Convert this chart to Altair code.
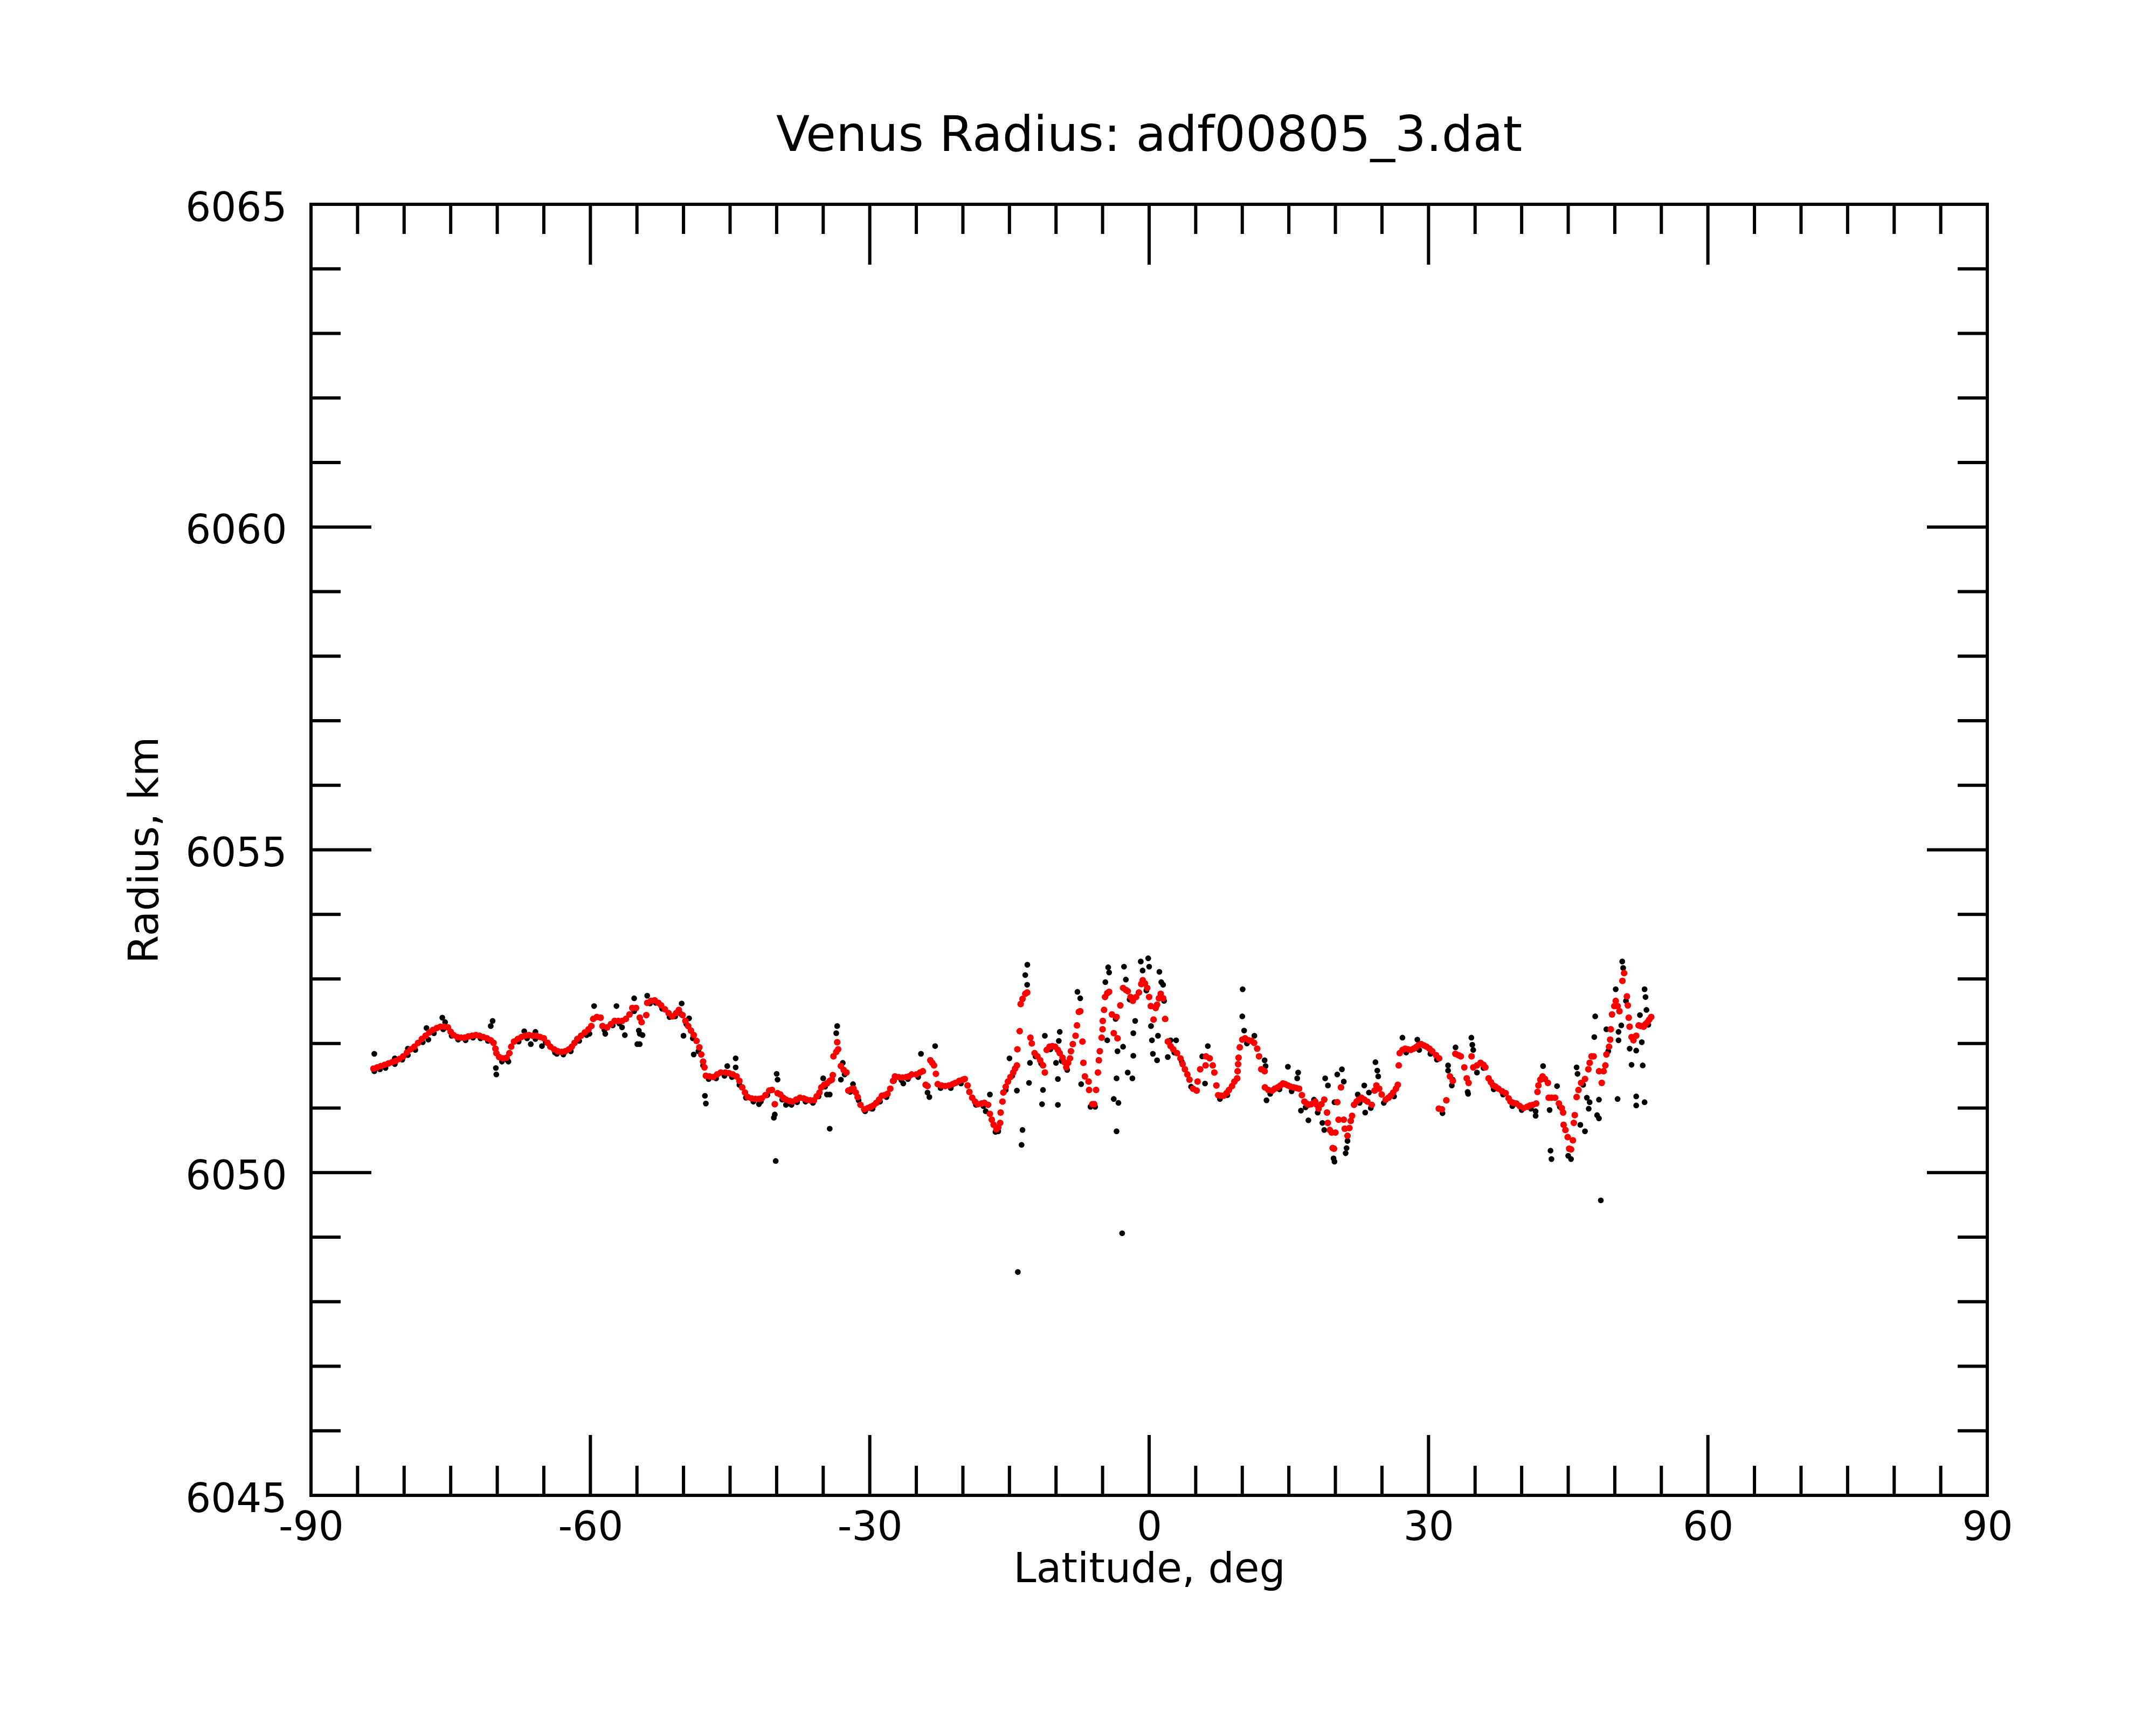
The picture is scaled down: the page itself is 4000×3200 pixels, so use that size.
import altair as alt
import pandas as pd

# ---- smoothed (red) radius profile: (latitude deg, radius km) ----
red_seg_a = [
    (-83.3, 6051.61), (-82.9, 6051.63), (-82.5, 6051.65), (-82.1, 6051.67), (-81.7, 6051.69),
    (-81.3, 6051.71), (-80.9, 6051.73), (-80.5, 6051.76), (-80.1, 6051.80), (-79.7, 6051.86),
    (-79.3, 6051.91), (-78.9, 6051.95), (-78.5, 6052.01), (-78.1, 6052.07), (-77.7, 6052.12),
    (-77.3, 6052.17), (-76.9, 6052.21), (-76.5, 6052.24), (-76.1, 6052.26), (-75.7, 6052.26),
    (-75.3, 6052.25), (-75.0, 6052.18), (-74.7, 6052.13), (-74.3, 6052.10), (-73.9, 6052.09),
    (-73.5, 6052.09), (-73.1, 6052.11), (-72.7, 6052.12), (-72.3, 6052.13), (-71.9, 6052.12),
    (-71.5, 6052.10), (-71.1, 6052.08), (-70.7, 6052.05), (-70.4, 6052.01), (-70.2, 6051.92),
    (-70.1, 6051.85), (-69.8, 6051.79), (-69.4, 6051.77), (-69.0, 6051.78), (-68.7, 6051.85),
    (-68.5, 6051.95), (-68.2, 6052.03), (-67.8, 6052.07), (-67.4, 6052.10), (-67.0, 6052.12),
    (-66.6, 6052.13), (-66.2, 6052.12), (-65.8, 6052.12), (-65.4, 6052.10), (-65.0, 6052.08),
    (-64.6, 6052.01), (-64.3, 6051.95), (-63.9, 6051.91), (-63.5, 6051.88), (-63.1, 6051.87),
    (-62.7, 6051.88), (-62.3, 6051.91), (-62.0, 6051.95), (-61.7, 6052.01), (-61.4, 6052.07),
    (-61.0, 6052.12), (-60.6, 6052.17), (-60.2, 6052.22), (-59.9, 6052.27), (-59.7, 6052.38),
    (-59.3, 6052.41), (-58.9, 6052.40), (-58.7, 6052.27), (-58.2, 6052.25), (-57.8, 6052.30),
    (-57.4, 6052.35), (-57.0, 6052.35), (-56.6, 6052.35), (-56.2, 6052.38), (-55.8, 6052.45),
    (-55.5, 6052.55), (-55.1, 6052.55), (-54.7, 6052.40), (-54.5, 6052.33),
]
red_seg_b = [
    (-54.0, 6052.44), (-53.9, 6052.63), (-53.5, 6052.66), (-53.1, 6052.67), (-52.7, 6052.63),
    (-52.4, 6052.59), (-52.0, 6052.53), (-51.6, 6052.47), (-51.2, 6052.42), (-50.8, 6052.47),
    (-50.5, 6052.52), (-50.1, 6052.44), (-49.8, 6052.35), (-49.5, 6052.27), (-49.2, 6052.20),
    (-48.9, 6052.13), (-48.6, 6052.04), (-48.3, 6051.94), (-48.1, 6051.83), (-47.9, 6051.72),
    (-47.75, 6051.63), (-47.6, 6051.50), (-47.2, 6051.49), (-46.8, 6051.48), (-46.4, 6051.52),
    (-46.0, 6051.55), (-45.5, 6051.55), (-45.1, 6051.54), (-44.7, 6051.52), (-44.3, 6051.49),
    (-44.0, 6051.42), (-43.7, 6051.32), (-43.4, 6051.24), (-43.1, 6051.17), (-42.7, 6051.15),
    (-42.3, 6051.14), (-41.9, 6051.14), (-41.6, 6051.15), (-41.2, 6051.20), (-40.8, 6051.27),
    (-40.5, 6051.28), (-40.2, 6051.06), (-39.9, 6051.23), (-39.6, 6051.21), (-39.3, 6051.16),
    (-39.0, 6051.13), (-38.6, 6051.11), (-38.3, 6051.10), (-37.9, 6051.13), (-37.5, 6051.16),
    (-37.1, 6051.15), (-36.8, 6051.13), (-36.4, 6051.12), (-36.0, 6051.12), (-35.7, 6051.18),
    (-35.4, 6051.24), (-35.2, 6051.32), (-34.9, 6051.36), (-34.6, 6051.38), (-34.3, 6051.42),
    (-34.07, 6051.44), (-33.97, 6051.51), (-33.9, 6051.80), (-33.6, 6051.87), (-33.5, 6052.02),
    (-33.4, 6051.91), (-33.1, 6051.65), (-32.8, 6051.59), (-32.5, 6051.55), (-32.3, 6051.27),
    (-32.0, 6051.29), (-31.75, 6051.30), (-31.5, 6051.24), (-31.3, 6051.17), (-31.0, 6051.05),
    (-30.6, 6050.98), (-30.2, 6051.00), (-29.9, 6051.02), (-29.6, 6051.04), (-29.3, 6051.08),
    (-29.0, 6051.13), (-28.7, 6051.19), (-28.4, 6051.20), (-28.1, 6051.22), (-27.8, 6051.30),
    (-27.5, 6051.42), (-27.3, 6051.49), (-26.9, 6051.48), (-26.5, 6051.47), (-26.1, 6051.48),
    (-25.8, 6051.49), (-25.5, 6051.52),
]
red_seg_c = [
    (-25.0, 6051.52), (-24.6, 6051.55), (-24.3, 6051.57), (-24.0, 6051.36), (-23.8, 6051.34),
    (-23.5, 6051.74), (-23.3, 6051.70), (-23.1, 6051.66), (-22.9, 6051.53), (-22.7, 6051.37),
    (-22.3, 6051.35), (-21.9, 6051.34), (-21.5, 6051.35), (-21.1, 6051.37), (-20.8, 6051.39),
    (-20.4, 6051.42), (-20.0, 6051.44), (-19.8, 6051.45), (-19.5, 6051.35), (-19.3, 6051.25),
    (-19.0, 6051.16), (-18.7, 6051.10), (-18.4, 6051.06), (-18.0, 6051.07), (-17.7, 6051.08),
    (-17.3, 6051.05), (-17.1, 6050.91), (-16.9, 6050.82), (-16.7, 6050.74), (-16.4, 6050.67),
    (-16.2, 6050.70), (-16.0, 6050.77), (-15.95, 6050.93), (-15.75, 6051.10), (-15.66, 6051.24),
    (-15.4, 6051.33), (-15.16, 6051.41), (-14.9, 6051.48), (-14.6, 6051.55), (-14.4, 6051.61),
    (-14.2, 6051.66), (-14.15, 6051.91), (-13.9, 6052.19), (-13.8, 6052.61), (-13.6, 6052.69),
    (-13.3, 6052.77), (-13.1, 6052.79), (-12.75, 6052.09), (-12.6, 6052.00), (-12.3, 6051.85),
    (-12.0, 6051.80), (-11.7, 6051.74), (-11.4, 6051.66), (-11.2, 6051.55), (-11.0, 6051.90),
    (-10.7, 6051.95), (-10.4, 6051.96), (-10.1, 6051.95), (-9.8, 6051.90), (-9.6, 6051.85),
    (-9.3, 6051.78), (-9.1, 6051.71), (-8.9, 6051.63), (-8.7, 6051.70), (-8.5, 6051.77),
    (-8.4, 6051.88), (-8.2, 6051.99), (-7.9, 6052.12), (-7.75, 6052.28), (-7.55, 6052.49),
    (-7.4, 6052.50), (-7.16, 6052.03), (-7.06, 6051.70), (-6.9, 6051.49), (-6.5, 6051.41),
    (-6.45, 6051.28), (-6.1, 6051.06), (-5.9, 6051.06), (-5.7, 6051.28), (-5.5, 6051.55),
    (-5.4, 6051.74), (-5.3, 6051.88), (-5.1, 6052.09), (-5.0, 6052.22), (-4.98, 6052.35),
    (-4.84, 6052.52), (-4.74, 6052.72), (-4.5, 6052.78), (-4.3, 6052.80), (-4.0, 6052.45),
    (-3.8, 6052.16), (-3.5, 6052.41), (-3.4, 6052.08), (-3.1, 6052.59), (-2.8, 6052.86),
    (-2.5, 6052.83), (-2.3, 6052.81), (-2.0, 6052.72), (-1.75, 6052.66), (-1.4, 6052.72),
    (-1.1, 6052.79), (-0.85, 6052.92), (-0.69, 6052.98), (-0.45, 6052.93), (-0.21, 6052.86),
    (0.0, 6052.72), (0.18, 6052.58), (0.47, 6052.37), (0.7, 6052.55), (0.85, 6052.60),
    (1.05, 6052.70), (1.24, 6052.77), (1.5, 6052.70), (1.72, 6052.38), (2.01, 6052.03),
    (2.3, 6051.96), (2.59, 6051.91), (3.0, 6051.85), (3.36, 6051.77), (3.6, 6051.68),
    (3.84, 6051.60),
]
red_seg_d = [
    (4.1, 6051.52), (4.33, 6051.44), (4.71, 6051.30), (5.1, 6051.27), (5.2, 6051.41),
    (5.48, 6051.60), (6.06, 6051.66), (6.1, 6051.80), (6.5, 6051.77), (6.83, 6051.66),
    (7.0, 6051.55), (7.22, 6051.35), (7.41, 6051.20), (7.7, 6051.19), (7.99, 6051.19),
    (8.3, 6051.23), (8.57, 6051.28), (8.9, 6051.34), (9.15, 6051.41), (9.45, 6051.46),
    (9.5, 6051.57), (9.55, 6051.68), (9.6, 6051.78), (9.73, 6051.94), (10.0, 6052.06),
    (10.3, 6052.08), (10.69, 6052.05), (11.0, 6052.04), (11.27, 6052.01), (11.6, 6051.92),
    (11.8, 6051.80), (12.04, 6051.60), (12.4, 6051.57), (12.43, 6051.32), (12.8, 6051.28),
    (13.2, 6051.27), (13.5, 6051.30), (13.8, 6051.32), (14.1, 6051.35), (14.36, 6051.38),
    (14.6, 6051.37), (14.9, 6051.35), (15.2, 6051.33), (15.51, 6051.32), (15.8, 6051.31),
    (16.1, 6051.30), (16.4, 6051.20), (16.67, 6051.10), (16.9, 6051.07), (17.1, 6051.05),
    (17.4, 6051.06), (17.83, 6051.10), (18.0, 6051.05), (18.2, 6050.99), (18.5, 6051.06),
    (18.8, 6051.13), (19.1, 6050.93), (19.18, 6050.77), (19.4, 6050.66), (19.6, 6050.62),
    (19.7, 6050.38), (19.85, 6050.37), (20.0, 6050.62), (20.2, 6051.09), (20.34, 6050.82),
    (20.6, 6051.32), (20.9, 6050.82), (21.0, 6050.68), (21.3, 6050.57), (21.5, 6050.69),
    (21.65, 6050.80), (21.79, 6050.88), (22.0, 6051.05), (22.27, 6051.10), (22.5, 6051.13),
    (22.8, 6051.16), (23.1, 6051.13), (23.43, 6051.10), (23.9, 6051.05), (24.2, 6051.27),
    (24.4, 6051.35), (24.7, 6051.30), (24.97, 6051.21), (25.4, 6051.13), (25.7, 6051.16),
    (25.93, 6051.19), (26.2, 6051.24), (26.5, 6051.30), (26.7, 6051.36), (26.8, 6051.66),
    (26.9, 6051.85), (27.2, 6051.90), (27.48, 6051.92), (27.8, 6051.91), (28.1, 6051.90),
    (28.4, 6051.92), (28.64, 6051.94), (28.9, 6051.97), (29.2, 6051.99), (29.5, 6051.97),
    (29.79, 6051.95), (30.1, 6051.92), (30.4, 6051.88), (30.8, 6051.82), (31.14, 6051.77),
    (31.1, 6050.99), (31.43, 6050.98),
]
red_seg_e = [
    (31.91, 6051.12), (32.3, 6051.49), (32.6, 6051.42), (32.88, 6051.84), (33.2, 6051.82),
    (33.46, 6051.80), (33.84, 6051.63), (34.1, 6051.46), (34.3, 6051.39), (34.62, 6051.80),
    (34.8, 6051.63), (35.2, 6051.66), (35.58, 6051.70), (35.9, 6051.67), (36.1, 6051.63),
    (36.45, 6051.46), (36.7, 6051.40), (36.93, 6051.35), (37.2, 6051.33), (37.5, 6051.30),
    (37.9, 6051.26), (38.28, 6051.23), (38.6, 6051.15), (38.8, 6051.10), (39.1, 6051.08),
    (39.44, 6051.07), (39.8, 6051.03), (40.21, 6051.00), (40.6, 6051.02), (40.9, 6051.04),
    (41.2, 6051.05), (41.56, 6051.07), (41.7, 6051.25), (41.8, 6051.35), (42.0, 6051.44),
    (42.24, 6051.49), (42.5, 6051.45), (42.82, 6051.39), (42.9, 6051.16), (43.2, 6051.16),
    (43.59, 6051.16), (44.0, 6051.07), (44.3, 6051.00), (44.45, 6050.93), (44.5, 6050.74),
    (44.7, 6050.66), (44.94, 6050.55), (45.1, 6050.37), (45.3, 6050.36), (45.5, 6050.50),
    (45.6, 6050.77), (45.7, 6050.89), (45.9, 6051.17), (46.1, 6051.28), (46.38, 6051.39),
    (46.8, 6051.45), (47.16, 6051.60), (47.3, 6051.70), (47.5, 6051.80), (47.73, 6051.80),
    (48.31, 6051.57), (48.6, 6051.39), (48.8, 6051.57), (48.99, 6051.66), (49.1, 6051.83),
    (49.38, 6051.95), (49.5, 6052.06), (49.57, 6052.22), (49.7, 6052.45), (49.95, 6052.58),
    (50.1, 6052.66), (50.3, 6052.58), (50.5, 6052.50), (50.82, 6052.97), (51.0, 6053.09),
    (51.3, 6052.73), (51.4, 6052.59), (51.5, 6052.40), (51.59, 6052.26), (51.8, 6052.10),
    (52.0, 6052.05), (52.3, 6052.12), (52.56, 6052.28), (52.8, 6052.27), (53.1, 6052.26),
    (53.3, 6052.30), (53.5, 6052.33), (53.7, 6052.37), (53.91, 6052.41),
]

# ---- raw (black) radius samples: (latitude deg, radius km) ----
blk_seg_a = [
    (-83.2, 6051.57), (-82.6, 6051.60), (-82.0, 6051.62), (-81.0, 6051.68), (-80.2, 6051.75),
    (-79.6, 6051.82), (-78.8, 6051.90), (-78.0, 6052.02), (-77.4, 6052.06), (-76.8, 6052.16),
    (-75.8, 6052.22), (-74.9, 6052.12), (-74.2, 6052.06), (-73.4, 6052.05), (-72.6, 6052.09),
    (-71.8, 6052.08), (-71.0, 6052.04), (-69.5, 6051.72), (-68.9, 6051.74), (-67.7, 6052.03),
    (-66.8, 6052.08), (-65.9, 6052.07), (-64.8, 6052.02), (-63.8, 6051.86), (-62.9, 6051.83),
    (-62.1, 6051.88), (-61.2, 6052.04), (-60.4, 6052.13), (-58.5, 6052.21), (-57.6, 6052.28),
    (-56.9, 6052.31), (-55.3, 6052.50),
    (-83.2, 6051.84), (-81.0, 6051.77), (-79.6, 6051.92), (-77.6, 6052.24), (-75.9, 6052.40),
    (-75.6, 6052.33), (-70.5, 6052.35), (-70.7, 6052.27), (-70.15, 6051.62), (-70.1, 6051.52),
    (-68.8, 6051.72), (-67.1, 6052.19), (-66.4, 6051.99), (-65.9, 6052.18), (-65.2, 6051.96),
    (-63.6, 6051.84), (-60.1, 6052.15), (-59.6, 6052.58), (-58.4, 6052.15), (-57.2, 6052.58),
    (-56.6, 6052.25), (-56.3, 6052.13), (-55.3, 6052.70), (-54.7, 6051.99), (-54.7, 6052.15),
]
blk_seg_b = [
    (-53.6, 6052.62), (-53.0, 6052.63), (-52.3, 6052.54), (-51.5, 6052.41), (-50.9, 6052.42),
    (-50.3, 6052.46), (-49.7, 6052.30), (-49.0, 6052.08), (-48.4, 6051.88), (-47.9, 6051.66),
    (-47.3, 6051.45), (-46.5, 6051.46), (-45.6, 6051.50), (-44.8, 6051.48), (-44.0, 6051.36),
    (-43.3, 6051.16), (-42.5, 6051.10), (-41.7, 6051.10), (-41.0, 6051.20), (-39.4, 6051.13),
    (-38.6, 6051.07), (-37.8, 6051.09), (-36.9, 6051.10), (-36.1, 6051.08), (-35.5, 6051.18),
    (-34.8, 6051.33), (-32.7, 6051.52), (-32.1, 6051.25), (-31.2, 6051.12), (-30.5, 6050.95),
    (-29.7, 6050.99), (-28.9, 6051.10), (-28.2, 6051.17), (-27.4, 6051.42), (-26.6, 6051.43),
    (-25.9, 6051.45),
    (-54.96, 6051.99), (-54.4, 6052.13), (-54.8, 6052.20), (-53.9, 6052.74), (-50.2, 6052.62),
    (-49.4, 6052.39), (-50.0, 6052.12), (-48.9, 6051.83), (-47.7, 6051.19), (-47.6, 6051.07),
    (-45.3, 6051.65), (-44.4, 6051.77), (-44.4, 6051.63), (-41.9, 6051.06), (-40.0, 6051.53),
    (-39.9, 6051.44), (-40.3, 6050.85), (-40.2, 6050.90), (-40.1, 6050.18), (-35.0, 6051.46),
    (-34.3, 6051.21), (-34.3, 6050.68), (-33.5, 6052.27), (-33.6, 6052.16), (-33.1, 6051.44),
    (-32.9, 6051.70), (-31.8, 6051.37), (-29.8, 6050.99), (-26.4, 6051.38), (-39.0, 6051.05),
    (-38.4, 6051.05), (-34.6, 6051.21),
]
blk_seg_c = [
    (-24.8, 6051.48), (-22.4, 6051.31), (-21.3, 6051.31), (-20.2, 6051.38), (-18.6, 6051.05),
    (-17.8, 6051.03), (-16.5, 6050.63), (-16.2, 6050.64), (-15.4, 6051.28), (-14.7, 6051.50),
    (-12.2, 6051.80), (-11.6, 6051.69), (-10.6, 6051.91), (-9.4, 6051.73), (-8.8, 6051.59),
    (-6.3, 6051.02), (-5.8, 6051.02), (-3.6, 6052.38), (-2.1, 6052.68), (-0.3, 6052.82),
    (1.6, 6052.66), (2.7, 6051.86), (3.5, 6051.72),
    (-22.98, 6051.96), (-24.5, 6051.84), (-23.6, 6051.17), (-23.8, 6051.24), (-17.55, 6050.95),
    (-17.1, 6051.21), (-15.0, 6051.77), (-14.2, 6051.27), (-13.6, 6050.66), (-13.7, 6050.43),
    (-13.08, 6053.22), (-13.3, 6053.06), (-13.1, 6052.91), (-12.9, 6051.39), (-12.8, 6051.70),
    (-11.2, 6052.12), (-11.4, 6051.28), (-11.5, 6051.06), (-9.8, 6051.45), (-9.8, 6051.05),
    (-9.7, 6052.04), (-9.6, 6052.18), (-10.0, 6051.70), (-7.7, 6052.80), (-7.4, 6052.70),
    (-7.3, 6051.37), (-4.4, 6053.18), (-4.3, 6053.10), (-4.7, 6052.95), (-4.5, 6052.05),
    (-3.8, 6051.14), (-3.3, 6051.08), (-3.5, 6050.64), (-3.5, 6051.46), (-3.4, 6051.88),
    (-2.8, 6051.95), (-2.7, 6053.19), (-2.5, 6052.99), (-2.3, 6051.55), (-1.8, 6051.46),
    (-1.7, 6052.16), (-1.5, 6052.35), (-1.7, 6051.81), (-0.9, 6053.27), (-0.1, 6053.32),
    (-0.7, 6053.13), (0.0, 6053.19), (0.2, 6052.27), (0.3, 6052.05), (0.4, 6051.84),
    (0.85, 6051.74), (0.95, 6052.12), (1.1, 6053.11), (1.3, 6052.95), (1.5, 6052.91),
    (2.3, 6052.05), (2.0, 6051.79), (-14.1, 6048.46), (-2.9, 6049.06),
]
blk_seg_d = [
    (4.5, 6051.33), (7.6, 6051.14), (8.4, 6051.20), (10.5, 6052.00), (13.0, 6051.22),
    (14.0, 6051.29), (15.3, 6051.26), (16.8, 6051.01), (22.6, 6051.08), (23.8, 6051.00),
    (25.2, 6051.08), (26.3, 6051.18), (27.6, 6051.86), (29.0, 6051.90), (30.2, 6051.84),
    (30.9, 6051.75),
    (10.04, 6052.84), (10.0, 6052.42), (10.2, 6052.20), (2.9, 6052.05), (6.3, 6051.96),
    (5.7, 6051.80), (6.0, 6051.38), (11.3, 6052.12), (12.4, 6051.74), (12.5, 6051.65),
    (12.6, 6051.12), (14.9, 6051.64), (16.0, 6051.55), (15.9, 6051.46), (16.3, 6050.96),
    (17.1, 6050.81), (17.7, 6051.13), (18.1, 6050.93), (18.9, 6051.46), (19.2, 6051.35),
    (18.6, 6050.77), (18.8, 6050.66), (19.8, 6050.22), (19.9, 6050.17), (20.7, 6051.60),
    (20.2, 6051.52), (20.9, 6051.41), (21.3, 6050.49), (21.2, 6050.38), (21.1, 6050.30),
    (19.9, 6051.09), (22.4, 6051.21), (23.1, 6051.35), (23.2, 6050.93), (23.6, 6051.24),
    (24.3, 6051.71), (24.5, 6051.58), (24.6, 6051.49), (27.2, 6052.09), (28.8, 6052.06),
    (31.5, 6050.92), (32.1, 6051.58), (32.3, 6051.49), (32.5, 6051.35),
]
blk_seg_e = [
    (35.9, 6051.62), (37.0, 6051.29), (38.0, 6051.21), (39.0, 6051.03), (40.0, 6050.97),
    (41.0, 6050.99), (44.1, 6051.02), (46.6, 6051.36), (49.3, 6051.88), (51.2, 6052.66),
    (53.6, 6052.29),
    (34.6, 6052.09), (34.7, 6051.98), (34.8, 6051.90), (32.9, 6051.94), (32.1, 6051.66),
    (32.6, 6051.44), (34.2, 6051.25), (34.25, 6051.22), (35.2, 6051.55), (41.5, 6050.95),
    (41.5, 6050.88), (42.3, 6051.65), (43.8, 6051.34), (43.0, 6050.97), (43.1, 6050.34),
    (43.2, 6050.21), (45.3, 6050.21), (45.0, 6050.26), (46.3, 6050.74), (46.8, 6050.64),
    (45.9, 6051.63), (46.0, 6051.53), (47.0, 6051.16), (47.3, 6051.09), (47.2, 6050.99),
    (48.1, 6050.89), (48.3, 6050.84), (48.3, 6051.13), (48.5, 6049.57), (47.8, 6052.10),
    (47.9, 6052.42), (49.1, 6052.22), (50.1, 6052.84), (50.7, 6052.28), (50.4, 6052.18),
    (50.4, 6052.05), (50.3, 6051.14), (50.8, 6053.27), (50.9, 6053.17), (51.6, 6051.92),
    (51.8, 6051.67), (52.3, 6051.89), (52.3, 6051.18), (52.3, 6051.04), (52.9, 6052.02),
    (53.0, 6051.66), (53.2, 6051.09), (53.2, 6052.84), (53.3, 6052.72), (53.4, 6052.52),
    (52.7, 6052.44),
]

# ---- axes ----
x_labels = [-90, -60, -30, 0, 30, 60, 90]
y_labels = [6045, 6050, 6055, 6060, 6065]
x_major_inner = [-60, -30, 0, 30, 60]
x_minor = [v for v in range(-85, 90, 5) if v % 30 != 0]
y_major_inner = [6050, 6055, 6060]
y_minor = [v for v in range(6046, 6065) if v % 5 != 0]

W, H = 3110, 2395
MINOR_LEN, MAJOR_LEN = 55, 112
FONT = "DejaVu Sans"
LABEL_SIZE = 74
RED_DOT, BLK_DOT = 150, 115

red_df = pd.DataFrame(red_seg_a + red_seg_b + red_seg_c + red_seg_d + red_seg_e,
                      columns=["lat", "r"])
blk_df = pd.DataFrame(blk_seg_a + blk_seg_b + blk_seg_c + blk_seg_d + blk_seg_e,
                      columns=["lat", "r"])

xscale = alt.Scale(domain=[-90, 90], nice=False, zero=False)
yscale = alt.Scale(domain=[6045, 6065], nice=False, zero=False)

x_axis = alt.Axis(
    values=x_labels, title="Latitude, deg", grid=False, ticks=False, domain=False,
    labelFont=FONT, labelFontSize=LABEL_SIZE, labelColor="black", labelPadding=24,
    labelFlush=False, labelOverlap=False, labelLimit=600,
    labelExpr="datum.value < 0 ? '-' + abs(datum.value) : '' + datum.value",
    titleFont=FONT, titleFontSize=76, titleFontWeight="normal", titleColor="black",
    titleBaseline="alphabetic", titleY=160, titleLimit=2000,
)
y_axis = alt.Axis(
    values=y_labels, title="Radius, km", grid=False, ticks=False, domain=False,
    format="d", labelFont=FONT, labelFontSize=LABEL_SIZE, labelColor="black", labelPadding=45,
    labelOffset=8, labelFlush=False, labelOverlap=False, labelLimit=600,
    titleFont=FONT, titleFontSize=76, titleFontWeight="normal", titleColor="black",
    titleBaseline="alphabetic", titleAngle=270, titleX=-285, titleY=H / 2, titleLimit=2000,
)

X = alt.X("lat:Q", scale=xscale, axis=x_axis, title="Latitude, deg")
Y = alt.Y("r:Q", scale=yscale, axis=y_axis, title="Radius, km")

black_pts = alt.Chart(blk_df).mark_point(
    filled=True, shape="circle", size=BLK_DOT, color="black", opacity=1, strokeWidth=0
).encode(x=X, y=Y)
red_pts = alt.Chart(red_df).mark_point(
    filled=True, shape="circle", size=RED_DOT, color="#ff0000", opacity=1, strokeWidth=0
).encode(x=X, y=Y)


def xticks(vals, length):
    df = pd.DataFrame({"v": vals})
    base = alt.Chart(df).mark_rule(color="black", strokeWidth=6)
    xe = alt.X("v:Q", scale=xscale, axis=x_axis, title="Latitude, deg")
    bottom = base.encode(x=xe, y=alt.value(H), y2=alt.value(H - length))
    top = base.encode(x=xe, y=alt.value(0), y2=alt.value(length))
    return [bottom, top]


def yticks(vals, length):
    df = pd.DataFrame({"v": vals})
    base = alt.Chart(df).mark_rule(color="black", strokeWidth=6)
    ye = alt.Y("v:Q", scale=yscale, axis=y_axis, title="Radius, km")
    left = base.encode(y=ye, x=alt.value(0), x2=alt.value(length))
    right = base.encode(y=ye, x=alt.value(W), x2=alt.value(W - length))
    return [left, right]


tick_layers = (xticks(x_minor, MINOR_LEN) + xticks(x_major_inner, MAJOR_LEN)
               + yticks(y_minor, MINOR_LEN) + yticks(y_major_inner, MAJOR_LEN))

chart = alt.layer(black_pts, red_pts, *tick_layers).properties(
    width=W,
    height=H,
    title=alt.TitleParams(
        "Venus Radius: adf00805_3.dat", font=FONT, fontSize=91, fontWeight="normal",
        color="black", anchor="middle", frame="group", baseline="alphabetic", offset=68,
        dy=89,
    ),
    autosize=alt.AutoSizeParams(type="none"),
    padding={"left": 569, "top": 371, "right": 300, "bottom": 400},
    background="white",
).configure_view(stroke="black", strokeWidth=6)

chart.save("out.html", embed_options={"renderer": "svg", "actions": False})
